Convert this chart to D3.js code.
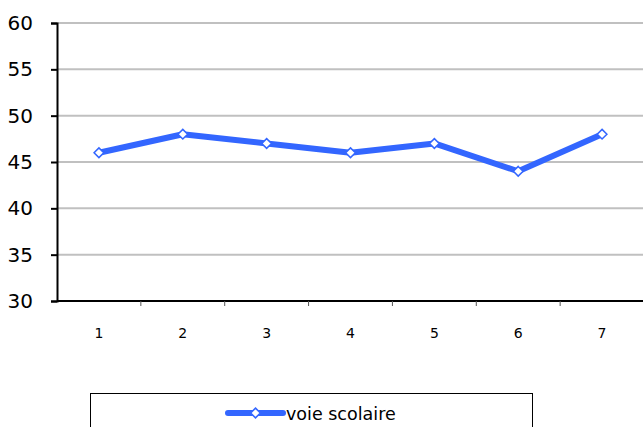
<!DOCTYPE html>
<html>
<head>
<meta charset="utf-8">
<script src="https://cdn.jsdelivr.net/npm/d3@7"></script>
<style>
  body { margin: 0; background: #fff; }
  svg { display: block; font-family: "DejaVu Sans", Verdana, sans-serif; }
</style>
</head>
<body>
<svg id="chart" width="643" height="427"></svg>
<script>
// chart data
const categories = ['1', '2', '3', '4', '5', '6', '7'];
const values = [46, 48, 47, 46, 47, 44, 48];
const yTicks = [30, 35, 40, 45, 50, 55, 60];
const seriesName = 'voie scolaire';

const svg = d3.select('#chart');
const plotLeft = 57, plotRight = 644, plotTop = 23, plotBottom = 301;
const blue = '#3366ff';

const x = d3.scaleBand().domain(categories).range([plotLeft, plotRight]);
const y = d3.scaleLinear().domain([30, 60]).range([plotBottom, plotTop]);

// gridlines
svg.append('g').selectAll('line')
  .data(yTicks.filter(v => v > 30))
  .join('line')
  .attr('x1', plotLeft).attr('x2', plotRight)
  .attr('y1', d => y(d)).attr('y2', d => y(d))
  .attr('stroke', '#c0c0c0').attr('stroke-width', 2);

// y axis
const yAxis = svg.append('g')
  .attr('transform', `translate(${plotLeft},0)`)
  .call(d3.axisLeft(y).tickValues(yTicks).tickSize(6).tickPadding(18));
yAxis.select('.domain').attr('stroke', '#000').attr('stroke-width', 2);
yAxis.selectAll('.tick line').attr('stroke', '#000').attr('stroke-width', 2);
yAxis.selectAll('text').attr('font-size', 20).attr('fill', '#000')
  .attr('font-family', '"DejaVu Sans", Verdana, sans-serif');

// x axis (ticks at band boundaries)
svg.append('line')
  .attr('x1', plotLeft).attr('x2', plotRight)
  .attr('y1', plotBottom).attr('y2', plotBottom)
  .attr('stroke', '#000').attr('stroke-width', 2);
svg.append('g').selectAll('line')
  .data(categories.slice(1))
  .join('line')
  .attr('x1', d => x(d)).attr('x2', d => x(d))
  .attr('y1', plotBottom).attr('y2', plotBottom + 5)
  .attr('stroke', '#555').attr('stroke-width', 1);
svg.append('g').selectAll('text')
  .data(categories)
  .join('text')
  .attr('x', d => x(d) + x.bandwidth() / 2)
  .attr('y', 338)
  .attr('text-anchor', 'middle')
  .attr('font-size', 14)
  .text(d => d);

// series line
const pts = categories.map((c, i) => [x(c) + x.bandwidth() / 2, y(values[i])]);
svg.append('path')
  .attr('d', d3.line()(pts))
  .attr('fill', 'none')
  .attr('stroke', blue)
  .attr('stroke-width', 6)
  .attr('stroke-linejoin', 'round');

const diamond = d3.symbol().type(d3.symbolDiamond2).size(60);
svg.append('g').selectAll('path')
  .data(pts)
  .join('path')
  .attr('transform', d => `translate(${d[0]},${d[1]})`)
  .attr('d', diamond)
  .attr('fill', '#fff')
  .attr('stroke', blue)
  .attr('stroke-width', 1.5);

// legend
svg.append('rect')
  .attr('x', 90.5).attr('y', 393.5)
  .attr('width', 442).attr('height', 50)
  .attr('fill', '#fff').attr('stroke', '#000').attr('stroke-width', 1);
svg.append('line')
  .attr('x1', 228).attr('x2', 283)
  .attr('y1', 413).attr('y2', 413)
  .attr('stroke', blue).attr('stroke-width', 6).attr('stroke-linecap', 'round');
svg.append('path')
  .attr('transform', 'translate(255.5,413)')
  .attr('d', diamond)
  .attr('fill', '#fff').attr('stroke', blue).attr('stroke-width', 1.5);
svg.append('text')
  .attr('x', 286).attr('y', 420)
  .attr('font-size', 17.5)
  .text(seriesName);
</script>
</body>
</html>
